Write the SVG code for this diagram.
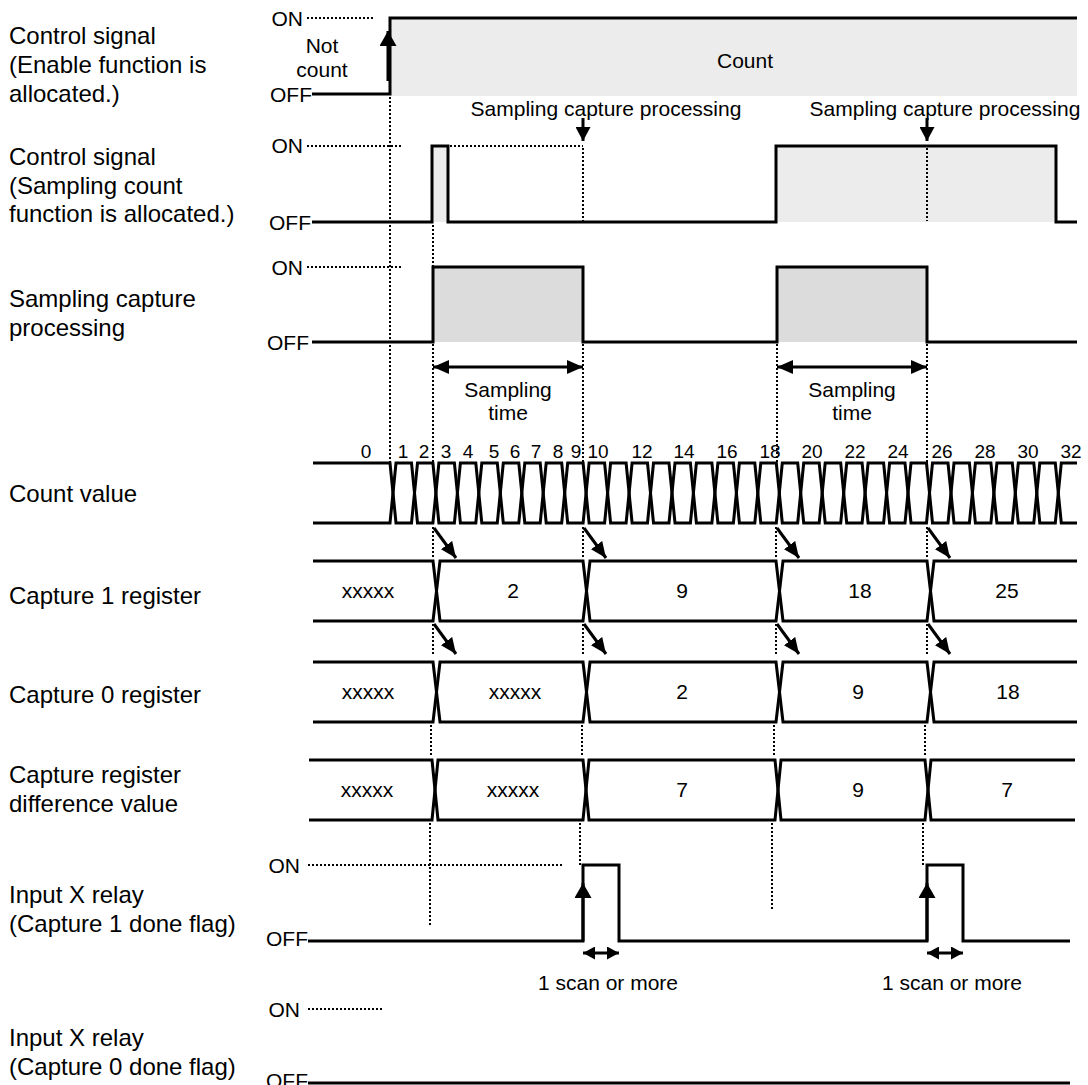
<svg xmlns="http://www.w3.org/2000/svg" width="1088" height="1085" viewBox="0 0 1088 1085">
<style>
text{font-family:"Liberation Sans",Arial,Helvetica,sans-serif;fill:#000}
.lbl{font-size:24px}
.t{font-size:21px}
.n{font-size:19px}
.m{text-anchor:middle}
.e{text-anchor:end}
.sig{fill:none;stroke:#000;stroke-width:3}
.dot{fill:none;stroke:#000;stroke-width:2;stroke-dasharray:2 2}
.arr{fill:none;stroke:#000;stroke-width:3}
.f1{fill:#ececec}
.f2{fill:#dcdcdc}
</style>
<defs>
<marker id="ahL" markerUnits="userSpaceOnUse" viewBox="0 0 16 14" markerWidth="16" markerHeight="14" refX="16" refY="7" orient="auto-start-reverse"><path d="M0,0 L16,7 L0,14 z" fill="#000"/></marker>
<marker id="ahU" markerUnits="userSpaceOnUse" viewBox="0 0 15 17" markerWidth="15" markerHeight="17" refX="15" refY="8.5" orient="auto"><path d="M0,0 L15,8.5 L0,17 z" fill="#000"/></marker>
<marker id="ahM" markerUnits="userSpaceOnUse" viewBox="0 0 14 15" markerWidth="14" markerHeight="15" refX="14" refY="7.5" orient="auto"><path d="M0,0 L14,7.5 L0,15 z" fill="#000"/></marker>
<marker id="ahD" markerUnits="userSpaceOnUse" viewBox="0 0 16 14" markerWidth="16" markerHeight="14" refX="16" refY="7" orient="auto"><path d="M0,0 L16,7 L0,14 z" fill="#000"/></marker>
<marker id="ahS" markerUnits="userSpaceOnUse" viewBox="0 0 12 13" markerWidth="12" markerHeight="13" refX="12" refY="6.5" orient="auto-start-reverse"><path d="M0,0 L12,6.5 L0,13 z" fill="#000"/></marker>
</defs>

<g id="labels">
<text class="lbl" x="9" y="44">Control signal</text>
<text class="lbl" x="9" y="73">(Enable function is</text>
<text class="lbl" x="9" y="102">allocated.)</text>
<text class="lbl" x="9" y="165">Control signal</text>
<text class="lbl" x="9" y="194">(Sampling count</text>
<text class="lbl" x="9" y="222">function is allocated.)</text>
<text class="lbl" x="9" y="307">Sampling capture</text>
<text class="lbl" x="9" y="336">processing</text>
<text class="lbl" x="9" y="502">Count value</text>
<text class="lbl" x="9" y="604">Capture 1 register</text>
<text class="lbl" x="9" y="703">Capture 0 register</text>
<text class="lbl" x="9" y="783">Capture register</text>
<text class="lbl" x="9" y="812">difference value</text>
<text class="lbl" x="9" y="903">Input X relay</text>
<text class="lbl" x="9" y="932">(Capture 1 done flag)</text>
<text class="lbl" x="9" y="1046">Input X relay</text>
<text class="lbl" x="9" y="1075">(Capture 0 done flag)</text>
</g>

<g id="enable-signal">
<rect class="f1" x="390" y="18" width="687" height="78"/>
<text class="t e" x="303" y="26">ON</text>
<text class="t e" x="312" y="102">OFF</text>
<line class="dot" x1="307" y1="18" x2="373" y2="18"/>
<path class="sig" d="M312,94 H390 V18 H1077"/>
<text class="t m" x="322" y="53">Not</text>
<text class="t m" x="322" y="77">count</text>
<text class="t m" x="745" y="68">Count</text>
<line class="arr" stroke-width="4" x1="388" y1="81" x2="388" y2="31" marker-end="url(#ahU)"/>
</g>

<g id="sampling-count-signal">
<rect class="f1" x="432" y="146" width="16" height="76"/>
<rect class="f1" x="776" y="146" width="280" height="76"/>
<text class="t e" x="303" y="153">ON</text>
<text class="t e" x="311" y="230">OFF</text>
<line class="dot" x1="307" y1="146" x2="403" y2="146"/>
<line class="dot" x1="450" y1="146" x2="583" y2="146"/>
<path class="sig" d="M312,222 H432 V146 H448 V222 H776 V146 H1056 V222 H1077"/>
<text class="t m" x="606" y="116">Sampling capture processing</text>
<text class="t m" x="945" y="116">Sampling capture processing</text>
<line class="arr" x1="583" y1="118" x2="583" y2="141" marker-end="url(#ahM)"/>
<line class="arr" x1="927" y1="118" x2="927" y2="141" marker-end="url(#ahM)"/>
</g>

<g id="sampling-capture-processing">
<rect class="f2" x="433" y="267" width="150" height="75"/>
<rect class="f2" x="777" y="267" width="150" height="75"/>
<text class="t e" x="303" y="275">ON</text>
<text class="t e" x="309" y="350">OFF</text>
<line class="dot" x1="307" y1="267" x2="403" y2="267"/>
<path class="sig" d="M312,342 H433 V267 H583 V342 H777 V267 H927 V342 H1077"/>
<line class="arr" x1="433" y1="367" x2="583" y2="367" marker-start="url(#ahL)" marker-end="url(#ahL)"/>
<line class="arr" x1="777" y1="367" x2="927" y2="367" marker-start="url(#ahL)" marker-end="url(#ahL)"/>
<text class="t m" x="508" y="397">Sampling</text>
<text class="t m" x="508" y="420">time</text>
<text class="t m" x="852" y="397">Sampling</text>
<text class="t m" x="852" y="420">time</text>
</g>

<g id="count-value">
<g class="n m">
<text x="366" y="458">0</text><text x="403" y="458">1</text><text x="424" y="458">2</text><text x="446" y="458">3</text>
<text x="468" y="458">4</text><text x="494" y="458">5</text><text x="515" y="458">6</text><text x="536" y="458">7</text>
<text x="558" y="458">8</text><text x="576" y="458">9</text><text x="598" y="458">10</text><text x="642" y="458">12</text>
<text x="684" y="458">14</text><text x="727" y="458">16</text><text x="770" y="458">18</text><text x="812" y="458">20</text>
<text x="855" y="458">22</text><text x="898" y="458">24</text><text x="942" y="458">26</text><text x="985" y="458">28</text>
<text x="1028" y="458">30</text><text x="1071" y="458">32</text>
</g>
<path class="sig" d="M313,463 H390 L396,523 H411.5 L417.5,463 H432.9 L438.9,523 H454.4 L460.4,463 H475.8 L481.8,523 H497.3 L503.3,463 H518.8 L524.8,523 H540.2 L546.2,463 H561.7 L567.7,523 H583.1 L589.1,463 H604.6 L610.6,523 H626.1 L632.1,463 H647.5 L653.5,523 H669 L675,463 H690.4 L696.4,523 H711.9 L717.9,463 H733.4 L739.4,523 H754.8 L760.8,463 H776.3 L782.3,523 H797.7 L803.7,463 H819.2 L825.2,523 H840.7 L846.7,463 H862.1 L868.1,523 H883.6 L889.6,463 H905 L911,523 H926.5 L932.5,463 H948 L954,523 H969.4 L975.4,463 H990.9 L996.9,523 H1012.3 L1018.3,463 H1033.8 L1039.8,523 H1055.3 L1061.3,463 H1077"/>
<path class="sig" d="M313,523 H390 L396,463 H411.5 L417.5,523 H432.9 L438.9,463 H454.4 L460.4,523 H475.8 L481.8,463 H497.3 L503.3,523 H518.8 L524.8,463 H540.2 L546.2,523 H561.7 L567.7,463 H583.1 L589.1,523 H604.6 L610.6,463 H626.1 L632.1,523 H647.5 L653.5,463 H669 L675,523 H690.4 L696.4,463 H711.9 L717.9,523 H733.4 L739.4,463 H754.8 L760.8,523 H776.3 L782.3,463 H797.7 L803.7,523 H819.2 L825.2,463 H840.7 L846.7,523 H862.1 L868.1,463 H883.6 L889.6,523 H905 L911,463 H926.5 L932.5,523 H948 L954,463 H969.4 L975.4,523 H990.9 L996.9,463 H1012.3 L1018.3,523 H1033.8 L1039.8,463 H1055.3 L1061.3,523 H1077"/>
</g>

<g id="capture1-register">
<path class="sig" d="M313,561 H433 L440,621 H583 L590,561 H776 L783,621 H927 L934,561 H1077"/>
<path class="sig" d="M313,621 H433 L440,561 H583 L590,621 H776 L783,561 H927 L934,621 H1077"/>
<text class="t m" x="368" y="598">xxxxx</text>
<text class="t m" x="513" y="598">2</text>
<text class="t m" x="682" y="598">9</text>
<text class="t m" x="860" y="598">18</text>
<text class="t m" x="1007" y="598">25</text>
</g>

<g id="capture0-register">
<path class="sig" d="M313,662 H433 L440,722 H583 L590,662 H776 L783,722 H927 L934,662 H1077"/>
<path class="sig" d="M313,722 H433 L440,662 H583 L590,722 H776 L783,662 H927 L934,722 H1077"/>
<text class="t m" x="368" y="699">xxxxx</text>
<text class="t m" x="515" y="699">xxxxx</text>
<text class="t m" x="682" y="699">2</text>
<text class="t m" x="858" y="699">9</text>
<text class="t m" x="1008" y="699">18</text>
</g>

<g id="difference-value">
<path class="sig" d="M309,760 H432 L438,820 H583 L589,760 H775 L781,820 H925 L931,760 H1075"/>
<path class="sig" d="M309,820 H432 L438,760 H583 L589,820 H775 L781,760 H925 L931,820 H1075"/>
<text class="t m" x="367" y="797">xxxxx</text>
<text class="t m" x="513" y="797">xxxxx</text>
<text class="t m" x="682" y="797">7</text>
<text class="t m" x="858" y="797">9</text>
<text class="t m" x="1007" y="797">7</text>
</g>

<g id="capture1-done-flag">
<text class="t e" x="300" y="873">ON</text>
<text class="t e" x="308" y="946">OFF</text>
<line class="dot" x1="308" y1="865" x2="562" y2="865"/>
<path class="sig" d="M308,941 H583 V865 H619 V941 H927 V865 H963 V941 H1070"/>
<line class="arr" stroke-width="4" x1="583" y1="941" x2="583" y2="883" marker-end="url(#ahU)"/>
<line class="arr" stroke-width="4" x1="927" y1="941" x2="927" y2="883" marker-end="url(#ahU)"/>
<line class="arr" x1="583" y1="953" x2="619" y2="953" marker-start="url(#ahS)" marker-end="url(#ahS)"/>
<line class="arr" x1="927" y1="953" x2="963" y2="953" marker-start="url(#ahS)" marker-end="url(#ahS)"/>
<text class="t m" x="608" y="990">1 scan or more</text>
<text class="t m" x="952" y="990">1 scan or more</text>
</g>

<g id="capture0-done-flag">
<text class="t e" x="300" y="1017">ON</text>
<text class="t e" x="308" y="1088">OFF</text>
<line class="dot" x1="308" y1="1009" x2="383" y2="1009"/>
<path class="sig" d="M308,1083 H1070"/>
</g>

<g id="connectors">
<line class="dot" x1="390" y1="97" x2="390" y2="462"/>
<line class="dot" x1="433" y1="225" x2="433" y2="267"/>
<line class="dot" x1="433" y1="344" x2="433" y2="462"/>
<line class="dot" x1="583" y1="148" x2="583" y2="221"/>
<line class="dot" x1="583" y1="344" x2="583" y2="462"/>
<line class="dot" x1="777" y1="344" x2="777" y2="462"/>
<line class="dot" x1="927" y1="148" x2="927" y2="221"/>
<line class="dot" x1="927" y1="344" x2="927" y2="462"/>
<line class="dot" x1="433" y1="527" x2="433" y2="559"/>
<line class="dot" x1="583" y1="527" x2="583" y2="559"/>
<line class="dot" x1="776" y1="527" x2="776" y2="559"/>
<line class="dot" x1="927" y1="527" x2="927" y2="559"/>
<line class="arr" stroke-width="2.5" x1="434" y1="528" x2="456" y2="558" marker-end="url(#ahD)"/>
<line class="arr" stroke-width="2.5" x1="584" y1="528" x2="606" y2="558" marker-end="url(#ahD)"/>
<line class="arr" stroke-width="2.5" x1="777" y1="528" x2="799" y2="558" marker-end="url(#ahD)"/>
<line class="arr" stroke-width="2.5" x1="928" y1="528" x2="950" y2="558" marker-end="url(#ahD)"/>
<line class="dot" x1="433" y1="624" x2="433" y2="656"/>
<line class="dot" x1="583" y1="624" x2="583" y2="656"/>
<line class="dot" x1="776" y1="624" x2="776" y2="656"/>
<line class="dot" x1="927" y1="624" x2="927" y2="656"/>
<line class="arr" stroke-width="2.5" x1="434" y1="624" x2="456" y2="654" marker-end="url(#ahD)"/>
<line class="arr" stroke-width="2.5" x1="584" y1="624" x2="606" y2="654" marker-end="url(#ahD)"/>
<line class="arr" stroke-width="2.5" x1="777" y1="624" x2="799" y2="654" marker-end="url(#ahD)"/>
<line class="arr" stroke-width="2.5" x1="928" y1="624" x2="950" y2="654" marker-end="url(#ahD)"/>
<line class="dot" x1="431" y1="725" x2="431" y2="757"/>
<line class="dot" x1="582" y1="725" x2="582" y2="757"/>
<line class="dot" x1="774" y1="725" x2="774" y2="757"/>
<line class="dot" x1="925" y1="725" x2="925" y2="757"/>
<line class="dot" x1="430" y1="823" x2="430" y2="927"/>
<line class="dot" x1="580" y1="823" x2="580" y2="865"/>
<line class="dot" x1="772" y1="823" x2="772" y2="911"/>
<line class="dot" x1="923" y1="823" x2="923" y2="865"/>
</g>
</svg>
